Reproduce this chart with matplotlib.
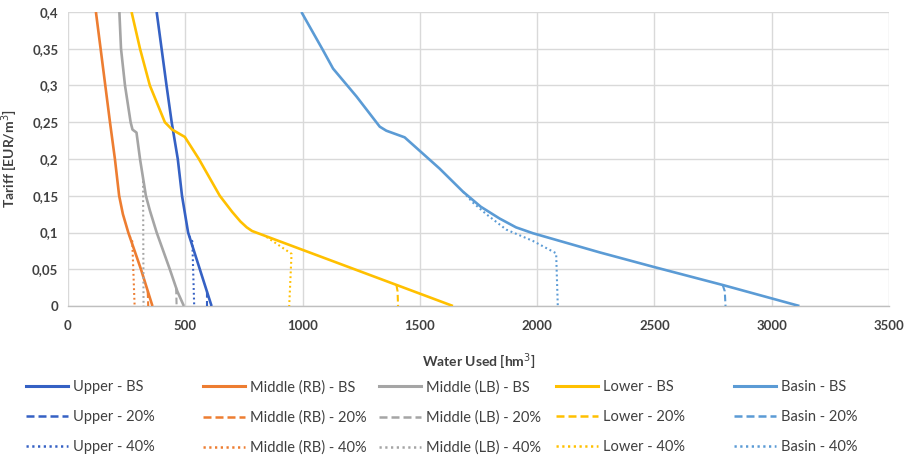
import matplotlib

matplotlib.use("Agg")
import matplotlib.pyplot as plt
from matplotlib.lines import Line2D
from matplotlib.ticker import FuncFormatter, MultipleLocator

plt.rcParams["font.family"] = ["Lato", "DejaVu Sans"]

# --- data (water used in hm3, tariff in EUR/m3) ---
regions = ["Upper", "Middle (RB)", "Middle (LB)", "Lower", "Basin"]
scenarios = ["BS", "20%", "40%"]

upper_bs_tariff = [0.4, 0.3, 0.25, 0.2, 0.15, 0.1, 0.05, 0.0]
upper_bs_water = [378, 420, 442, 468, 486, 512, 562, 612]
upper_20_tariff = [0.02, 0.0]
upper_20_water = [592, 592]
upper_40_tariff = [0.095, 0.088, 0.0]
upper_40_water = [517, 530, 538]

mrb_bs_tariff = [0.4, 0.3, 0.25, 0.2, 0.15, 0.125, 0.1, 0.05, 0.0]
mrb_bs_water = [119, 159, 179, 200, 218, 234, 257, 311, 360]
mrb_20_tariff = [0.02, 0.0]
mrb_20_water = [340, 342]
mrb_40_tariff = [0.095, 0.088, 0.0]
mrb_40_water = [263, 274, 284]

mlb_bs_tariff = [0.4, 0.35, 0.3, 0.25, 0.24, 0.236, 0.2, 0.15, 0.13, 0.1, 0.05, 0.02, 0.0]
mlb_bs_water = [219, 226, 243, 267, 275, 292, 307, 332, 349, 378, 434, 466, 494]
mlb_20_tariff = [0.025, 0.0]
mlb_20_water = [461, 463]
mlb_40_tariff = [0.17, 0.0]
mlb_40_water = [320, 322]

lower_bs_tariff = [0.4, 0.35, 0.3, 0.25, 0.24, 0.23, 0.2, 0.15, 0.128, 0.115,
                   0.107, 0.102, 0.0]
lower_bs_water = [271, 307, 349, 413, 444, 498, 558, 647, 700, 735,
                  762, 785, 1641]
lower_20_tariff = [0.0286, 0.02, 0.0]
lower_20_water = [1400, 1405, 1407]
lower_40_tariff = [0.094, 0.071, 0.0]
lower_40_water = [846, 953, 943]

basin_bs_tariff = [0.4, 0.348, 0.323, 0.285, 0.244, 0.2385, 0.2295, 0.187, 0.1555,
                   0.135, 0.119, 0.107, 0.099, 0.073, 0.0535, 0.0286, 0.0]
basin_bs_water = [995, 1087, 1130, 1230, 1329, 1357, 1435, 1584, 1684,
                  1760, 1840, 1910, 1982, 2266, 2493, 2791, 3118]
basin_20_tariff = [0.0286, 0.02, 0.0]
basin_20_water = [2791, 2800, 2803]
basin_40_tariff = [0.1555, 0.141, 0.125, 0.104, 0.0885, 0.0717, 0.0]
basin_40_water = [1684, 1725, 1783, 1868, 1982, 2081, 2088]

x_ticks = [0, 500, 1000, 1500, 2000, 2500, 3000, 3500]

series = {
    "Upper": [(upper_bs_water, upper_bs_tariff), (upper_20_water, upper_20_tariff),
              (upper_40_water, upper_40_tariff)],
    "Middle (RB)": [(mrb_bs_water, mrb_bs_tariff), (mrb_20_water, mrb_20_tariff),
                    (mrb_40_water, mrb_40_tariff)],
    "Middle (LB)": [(mlb_bs_water, mlb_bs_tariff), (mlb_20_water, mlb_20_tariff),
                    (mlb_40_water, mlb_40_tariff)],
    "Lower": [(lower_bs_water, lower_bs_tariff), (lower_20_water, lower_20_tariff),
              (lower_40_water, lower_40_tariff)],
    "Basin": [(basin_bs_water, basin_bs_tariff), (basin_20_water, basin_20_tariff),
              (basin_40_water, basin_40_tariff)],
}

colors = {
    "Upper": "#3561C4",
    "Middle (RB)": "#ED7D31",
    "Middle (LB)": "#A5A5A5",
    "Lower": "#FFC000",
    "Basin": "#5B9BD5",
}
styles = {"BS": ("-", 1.9), "20%": ((0, (3.2, 1.6)), 1.5), "40%": ((0, (0.9, 1.4)), 1.5)}

text_color = "#404040"
grid_color = "#D9D9D9"

fig = plt.figure(figsize=(9.11, 4.58), dpi=100)
ax = fig.add_axes([68 / 911, 1 - 306 / 458, (889 - 68) / 911, (306 - 12) / 458])

# draw in Excel series order: all BS, then 20%, then 40%
for k, scen in enumerate(scenarios):
    for reg in regions:
        xs, ys = series[reg][k]
        ls, lw = styles[scen]
        ax.plot(xs, ys, linestyle=ls, linewidth=lw, color=colors[reg],
                solid_capstyle="butt", dash_capstyle="butt", zorder=3)

ax.set_xlim(0, 3500)
ax.set_ylim(0, 0.4)
ax.set_xticks(x_ticks)
ax.yaxis.set_major_locator(MultipleLocator(0.05))
ax.yaxis.set_major_formatter(FuncFormatter(lambda v, _: f"{v:.2f}".rstrip("0").rstrip(".").replace(".", ",")))
ax.grid(True, color=grid_color, linewidth=1.0, zorder=0)
ax.set_axisbelow(True)
for name, spine in ax.spines.items():
    spine.set_visible(name == "bottom")
ax.spines["bottom"].set_color("#BFBFBF")
ax.spines["bottom"].set_linewidth(1.0)
ax.tick_params(axis="x", length=0, labelsize=9.5, labelcolor=text_color, pad=10)
ax.tick_params(axis="y", length=0, labelsize=9.5, labelcolor=text_color, pad=7)
for lab in ax.get_xticklabels() + ax.get_yticklabels():
    lab.set_fontweight("bold")

ax.set_xlabel("Water Used [hm$^3$]", fontsize=10, fontweight="bold", color=text_color)
ax.xaxis.set_label_coords(0.5, -(351 - 306) / 294)
ax.set_ylabel("Tariff [EUR/m$^3$]", fontsize=10, fontweight="bold", color=text_color)
ax.yaxis.set_label_coords(-(68 - 20) / 821, 0.5)

# one small legend per region column, to get Excel's even column spacing
col_x = [26, 203, 379, 556, 734]
for reg, x0 in zip(regions, col_x):
    handles = []
    for scen in scenarios:
        ls, lw = styles[scen]
        handles.append(Line2D([], [], color=colors[reg], linestyle=ls, linewidth=lw + 0.3,
                              label=f"{reg} - {scen}"))
    leg = fig.legend(handles=handles, loc="upper left",
                     bbox_to_anchor=((x0 - 3) / 911, 1 - 377 / 458),
                     frameon=False, fontsize=10.5, handlelength=2.9, handletextpad=0.3,
                     labelspacing=1.1, borderpad=0.2, borderaxespad=0)
    for t in leg.get_texts():
        t.set_color(text_color)

fig.savefig("out.png", dpi=100)
